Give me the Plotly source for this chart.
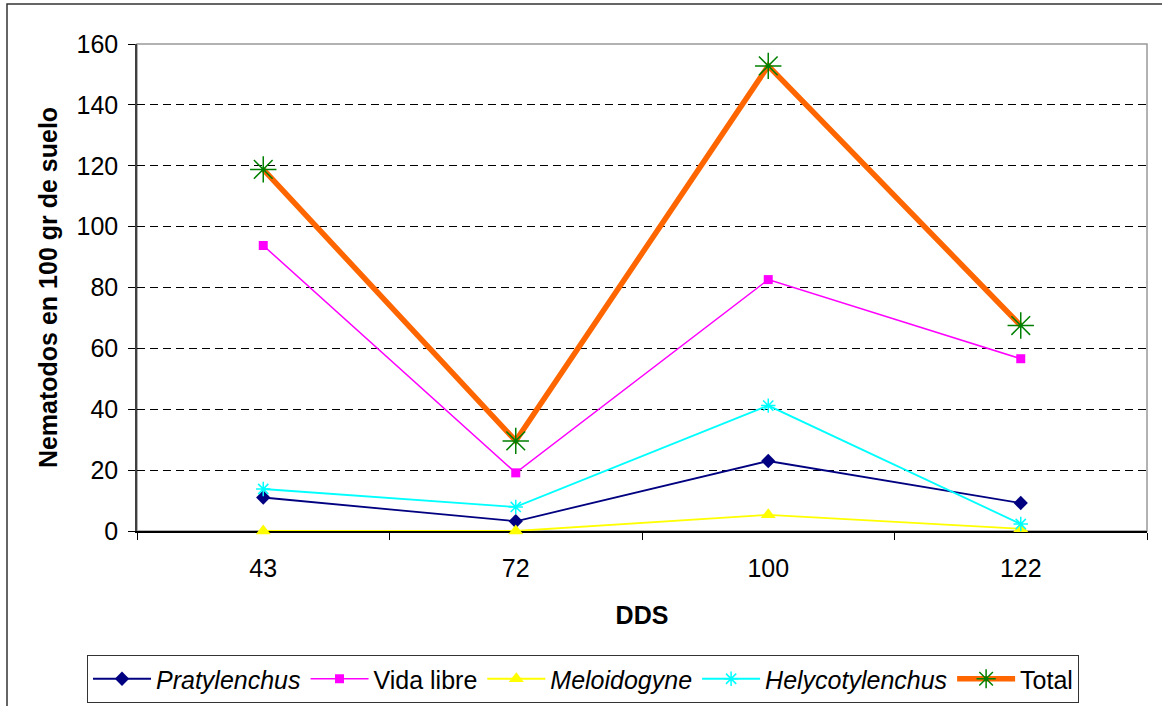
import plotly.graph_objects as go

categories = ["43", "72", "100", "122"]
pratylenchus = [11.0, 3.2, 23.0, 9.2]
vida_libre = [93.8, 19.1, 82.6, 56.6]
meloidogyne = [0.0, 0.0, 5.3, 0.7]
helycotylenchus = [13.8, 7.9, 41.2, 2.3]
total = [118.8, 29.6, 152.8, 67.5]
y_ticks = [0, 20, 40, 60, 80, 100, 120, 140, 160]

FONT = "Liberation Sans, Arial, sans-serif"

fig = go.Figure()

def add(name, y, color, symbol, size, lw, mcolor=None, open_sym=False):
    m = dict(symbol=symbol, size=size, color=mcolor or color)
    if open_sym:
        m["line"] = dict(color=mcolor or color, width=1.5)
    fig.add_trace(go.Scatter(x=categories, y=y, name=name, mode="lines+markers",
                             line=dict(color=color, width=lw), marker=m, cliponaxis=False))

add("<i>Pratylenchus</i>", pratylenchus, "#000080", "diamond", 11, 1.8)
add("Vida libre", vida_libre, "#FF00FF", "square", 9, 1.5)
add("<i>Meloidogyne</i>", meloidogyne, "#FFFF00", "triangle-up", 13, 1.8)
add("<i>Helycotylenchus</i>", helycotylenchus, "#00FFFF", "asterisk-open", 12, 1.8, open_sym=True)
add("Total", total, "#FF6600", "asterisk-open", 22, 5.5, mcolor="#008000", open_sym=True)

W, H = 1162, 706
L, R, T, B = 137, 15, 44, 175
pw, ph = W - L - R, H - T - B

def px(x):
    return (x - L) / pw

def py(y):
    return (H - B - y) / ph

fig.update_layout(
    width=W, height=H,
    margin=dict(l=L, r=R, t=T, b=B, autoexpand=False),
    paper_bgcolor="white", plot_bgcolor="white",
    font=dict(family=FONT, size=25, color="black"),
    showlegend=True,
    legend=dict(orientation="h", x=px(583), y=py(679), xanchor="center", yanchor="middle",
                bordercolor="#333333", borderwidth=1, font=dict(size=25, family=FONT),
                itemwidth=58, tracegroupgap=0, traceorder="normal"),
    xaxis=dict(type="category", range=[-0.5, 3.5], tickson="boundaries", automargin=False,
               ticks="outside", ticklen=7, tickcolor="black", showgrid=False,
               showline=True, linecolor="black", linewidth=1.5, ticklabelstandoff=14,
               layer="below traces",
               tickfont=dict(size=25), title=dict(text="<b>DDS</b>", font=dict(size=25), standoff=26)),
    yaxis=dict(range=[0, 160], tickvals=y_ticks, ticks="outside", ticklen=7, tickcolor="black",
               automargin=False, ticklabelstandoff=5, layer="below traces",
               showgrid=True, gridcolor="black", griddash="8px,5px", gridwidth=1,
               showline=True, linecolor="#404040", linewidth=1.5, zeroline=False,
               tickfont=dict(size=25),
               title=dict(text="<b>Nematodos en 100 gr de suelo</b>", font=dict(size=25), standoff=12)),
    shapes=[
        dict(type="rect", xref="paper", yref="paper", x0=0, x1=1, y0=0, y1=1,
             line=dict(color="#999999", width=1.5), layer="below"),
        dict(type="rect", xref="paper", yref="paper", x0=px(7), x1=px(1175), y0=py(720), y1=py(4),
             line=dict(color="#333333", width=1.5), layer="below"),
    ],
)

fig.write_html("out.html", config={"displayModeBar": False},
               post_script="document.body.style.margin='0';document.body.style.overflow='hidden';")
